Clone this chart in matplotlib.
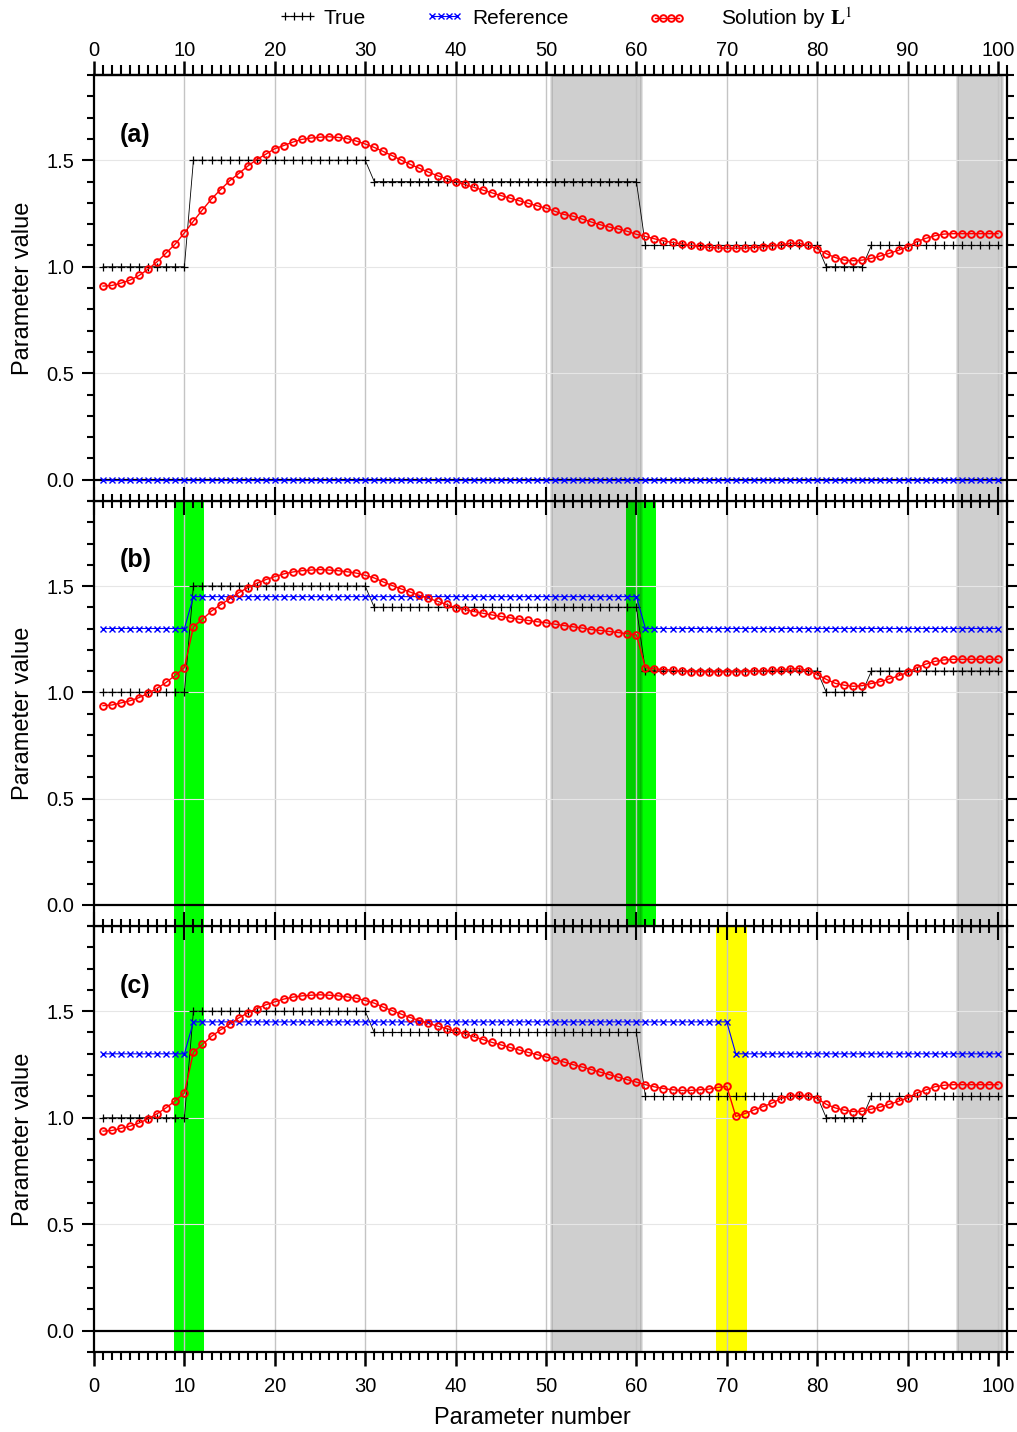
import numpy as np
import matplotlib
matplotlib.use('Agg')
import matplotlib.pyplot as plt
from matplotlib.ticker import MultipleLocator
from matplotlib.lines import Line2D

plt.rcParams['font.family'] = ['Liberation Sans', 'DejaVu Sans']
plt.rcParams['mathtext.fontset'] = 'stix'

# parameter index
param = np.arange(1, 101)

# true model
true_model = [1.0] * 10 + [1.5] * 20 + [1.4] * 30 + [1.1] * 20 + [1.0] * 5 + [1.1] * 15

# reference models
ref_a = [0.0] * 100
ref_b = [1.3] * 10 + [1.45] * 50 + [1.3] * 40
ref_c = [1.3] * 10 + [1.45] * 60 + [1.3] * 30

# solutions
sol_a = [0.909, 0.912, 0.923, 0.937, 0.959, 0.989, 1.024, 1.065, 1.107, 1.159,
         1.214, 1.267, 1.318, 1.362, 1.403, 1.437, 1.472, 1.503, 1.528, 1.554,
         1.569, 1.585, 1.598, 1.604, 1.608, 1.610, 1.607, 1.601, 1.590, 1.576,
         1.560, 1.541, 1.521, 1.500, 1.480, 1.462, 1.444, 1.427, 1.413, 1.400,
         1.386, 1.373, 1.360, 1.347, 1.334, 1.322, 1.310, 1.298, 1.286, 1.275,
         1.260, 1.245, 1.237, 1.224, 1.210, 1.197, 1.186, 1.177, 1.166, 1.152,
         1.142, 1.131, 1.121, 1.114, 1.107, 1.100, 1.095, 1.091, 1.088, 1.087,
         1.087, 1.087, 1.090, 1.093, 1.098, 1.102, 1.110, 1.110, 1.100, 1.084,
         1.061, 1.043, 1.031, 1.028, 1.031, 1.039, 1.050, 1.063, 1.077, 1.093,
         1.117, 1.133, 1.145, 1.153, 1.155, 1.155, 1.155, 1.155, 1.155, 1.155]

sol_b = [0.937, 0.940, 0.950, 0.960, 0.975, 0.995, 1.019, 1.047, 1.080, 1.116,
         1.308, 1.344, 1.382, 1.412, 1.439, 1.468, 1.492, 1.512, 1.530, 1.544,
         1.557, 1.566, 1.572, 1.575, 1.577, 1.575, 1.572, 1.567, 1.561, 1.550,
         1.538, 1.519, 1.502, 1.486, 1.471, 1.456, 1.442, 1.428, 1.413, 1.398,
         1.389, 1.380, 1.372, 1.364, 1.357, 1.350, 1.344, 1.338, 1.332, 1.327,
         1.320, 1.314, 1.308, 1.302, 1.295, 1.291, 1.286, 1.281, 1.275, 1.270,
         1.116, 1.110, 1.107, 1.104, 1.100, 1.097, 1.097, 1.096, 1.096, 1.096,
         1.096, 1.097, 1.099, 1.100, 1.104, 1.105, 1.110, 1.111, 1.102, 1.083,
         1.061, 1.042, 1.033, 1.028, 1.031, 1.041, 1.050, 1.063, 1.077, 1.093,
         1.115, 1.132, 1.145, 1.152, 1.155, 1.155, 1.155, 1.155, 1.155, 1.155]

sol_c = [0.937, 0.940, 0.950, 0.960, 0.975, 0.995, 1.019, 1.047, 1.080, 1.116,
         1.308, 1.344, 1.382, 1.412, 1.439, 1.468, 1.492, 1.512, 1.530, 1.544,
         1.557, 1.566, 1.572, 1.575, 1.577, 1.575, 1.572, 1.567, 1.561, 1.550,
         1.538, 1.519, 1.502, 1.486, 1.470, 1.456, 1.443, 1.430, 1.418, 1.406,
         1.393, 1.380, 1.367, 1.354, 1.342, 1.330, 1.318, 1.307, 1.296, 1.285,
         1.273, 1.261, 1.249, 1.238, 1.226, 1.214, 1.202, 1.190, 1.178, 1.167,
         1.155, 1.145, 1.137, 1.131, 1.128, 1.128, 1.131, 1.134, 1.142, 1.147,
         1.006, 1.019, 1.036, 1.052, 1.068, 1.090, 1.102, 1.106, 1.102, 1.090,
         1.063, 1.046, 1.035, 1.029, 1.030, 1.040, 1.050, 1.063, 1.077, 1.093,
         1.115, 1.130, 1.145, 1.152, 1.155, 1.155, 1.155, 1.155, 1.155, 1.155]

gray_spans = [(50.5, 60.5), (95.5, 100.5)]
green_b = [(8.8, 12.2), (58.8, 62.2)]
green_c = [(8.8, 12.2)]
yellow_c = [(68.8, 72.2)]

fig = plt.figure(figsize=(10.17, 14.32), dpi=100)

left = 94 / 1017
width = 913 / 1017
rows = [(75, 501), (501, 926), (926, 1352)]
panels = [
    ('(a)', ref_a, sol_a, [], []),
    ('(b)', ref_b, sol_b, green_b, []),
    ('(c)', ref_c, sol_c, green_c, yellow_c),
]

axes = []
for i in [2, 1, 0]:
    top_px, bot_px = rows[i]
    ax = fig.add_axes([left, 1 - bot_px / 1432, width, (bot_px - top_px) / 1432])
    ax.set_zorder(3 - i)
    axes.append((i, ax))

for i, ax in axes:
    label, ref, sol, greens, yellows = panels[i]
    for a, b in greens:
        ax.axvspan(a, b, color='#00ff00', lw=0, zorder=0)
    for a, b in yellows:
        ax.axvspan(a, b, color='#ffff00', lw=0, zorder=0)
    for a, b in gray_spans:
        ax.axvspan(a, b, facecolor=(0, 0, 0, 0.19), edgecolor=(0, 0, 0, 0.12), lw=2, zorder=0.5)

    for gx in range(10, 101, 10):
        ax.axvline(gx, color='#c4c4c4', lw=1, zorder=0.6)
    for gy in [0.5, 1.0, 1.5]:
        ax.axhline(gy, color='#e6e6e6', lw=0.8, zorder=0.6)

    ax.axhline(0.0, color='k', lw=1.6, zorder=1)

    ax.plot(param, true_model, color='k', lw=0.6, marker='+', ms=5.5, mew=0.9, zorder=3)
    ax.plot(param, ref, color='#0000ff', lw=0.8, marker='x', ms=3.8, mew=1.0, zorder=4)
    ax.plot(param, sol, color='#ff0000', lw=1.0, marker='o', ms=4.8, mew=1.4,
            mfc='none', mec='#ff0000', zorder=5)

    ax.text(2.8, 1.62, label, fontsize=18, fontweight='bold', va='center', ha='left')

    ax.set_xlim(0, 101)
    ax.set_ylim(-0.1, 1.9)
    ax.set_facecolor('white')
    for sp in ax.spines.values():
        sp.set_linewidth(1.6)

    ax.set_yticks([0.0, 0.5, 1.0, 1.5])
    ax.set_yticklabels(['0.0', '0.5', '1.0', '1.5'])
    ax.yaxis.set_minor_locator(MultipleLocator(0.1))
    ax.tick_params(axis='y', which='major', direction='out', length=9, width=1.5,
                   left=True, right=True, labelsize=14.5, pad=5)
    ax.tick_params(axis='y', which='minor', direction='out', length=5, width=1.5,
                   left=True, right=True)
    ax.set_ylabel('Parameter value', fontsize=17)
    ax.yaxis.set_label_coords(-0.066, 0.5)

    ax.xaxis.set_major_locator(MultipleLocator(10))
    ax.xaxis.set_minor_locator(MultipleLocator(1))
    if i < 2:
        ax.tick_params(axis='x', which='major', direction='inout', length=20, width=1.5,
                       top=False, bottom=True, labelbottom=False)
        ax.tick_params(axis='x', which='minor', direction='inout', length=10, width=1.5,
                       top=False, bottom=True)
    else:
        ax.tick_params(axis='x', which='major', direction='out', length=10, width=1.8,
                       top=False, bottom=True, labelbottom=True, labelsize=14.5, pad=8)
        ax.tick_params(axis='x', which='minor', direction='out', length=6, width=1.5,
                       top=False, bottom=True)
        ax.set_xlabel('Parameter number', fontsize=17)
        ax.xaxis.set_label_coords(0.48, -0.128)

    if i == 0:
        sec = ax.secondary_xaxis('top')
        sec.set_xticks(range(0, 101, 10))
        sec.xaxis.set_minor_locator(MultipleLocator(1))
        sec.tick_params(axis='x', which='major', direction='out', length=10, width=1.8,
                        labelsize=14.5, pad=0.5)
        sec.tick_params(axis='x', which='minor', direction='out', length=7, width=1.5)
        sec.spines['top'].set_linewidth(1.6)

# legend entries placed one by one
entries = [
    (Line2D([], [], color='k', lw=0.6, marker='+', ms=5.5, mew=0.9), 'True', 279, 1.8, 0.35),
    (Line2D([], [], color='#0000ff', lw=0.8, marker='x', ms=3.8, mew=1.0), 'Reference', 426, 1.8, 0.4),
    (Line2D([], [], color='#ff0000', lw=1.0, marker='o', ms=4.8, mew=1.4, mfc='none'),
     'Solution by $\\mathbf{L}^1$', 649, 1.75, 1.7),
]
for h, lab, xpx, hl, tp in entries:
    fig.legend([h], [lab], loc='center left', bbox_to_anchor=(xpx / 1017, 1 - 18 / 1432),
               frameon=False, numpoints=4, handlelength=hl, handletextpad=tp,
               borderpad=0, borderaxespad=0, fontsize=15)

fig.savefig('out.png', dpi=100)
